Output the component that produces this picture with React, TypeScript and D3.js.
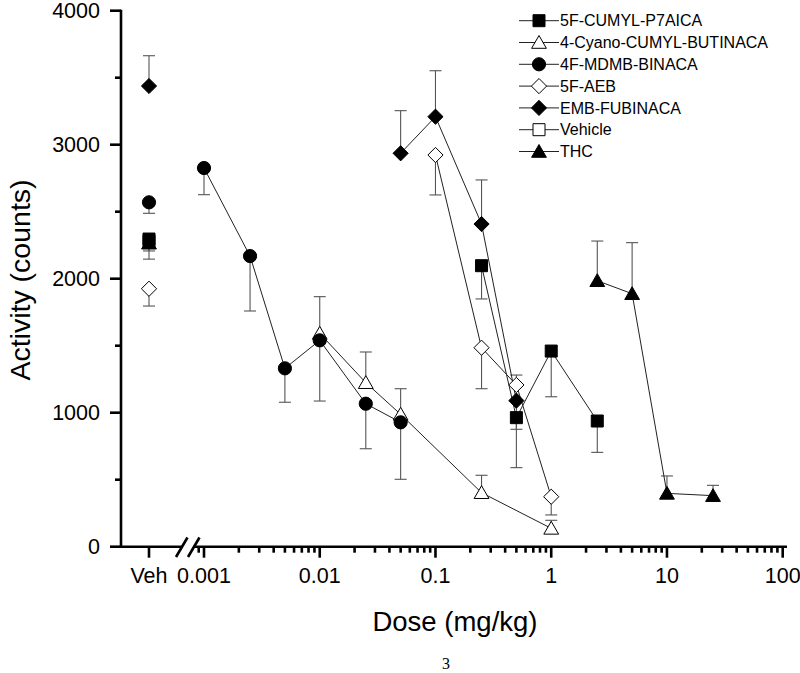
import React from "react";
import * as d3 from "d3";

// ---- data ----
const xTickLabels = ["Veh", "0.001", "0.01", "0.1", "1", "10", "100"];
const xTickValues = [0.001, 0.01, 0.1, 1, 10, 100];
const yTickValues = [0, 1000, 2000, 3000, 4000];
const yMinorTicks = [500, 1500, 2500, 3500];

const seriesNames = [
  "5F-CUMYL-P7AICA",
  "4-Cyano-CUMYL-BUTINACA",
  "4F-MDMB-BINACA",
  "5F-AEB",
  "EMB-FUBINACA",
  "Vehicle",
  "THC",
];
const seriesShapes = ["square", "triangle", "circle", "diamond", "diamond", "square", "triangle"];
const seriesFilled = [true, false, true, false, true, false, true];

// Vehicle values (dose "Veh") per series (null = none)
const vehValues = [2296, null, 2570, 1925, 3438, 2280, 2265];
const vehErrors = [-89, null, -82, -129, 226, 0, -119];

// dose-response data (error sign: + drawn upward, - drawn downward)
const cumylDoses = [0.25, 0.5, 1, 2.5];
const cumylValues = [2097, 963, 1460, 938];
const cumylErrors = [-248, -373, -341, -234];

const cyanoDoses = [0.01, 0.025, 0.05, 0.25, 1];
const cyanoValues = [1592, 1224, 988, 403, 137];
const cyanoErrors = [274, 229, 191, 130, 60];

const mdmbDoses = [0.001, 0.0025, 0.005, 0.01, 0.025, 0.05];
const mdmbValues = [2826, 2169, 1331, 1540, 1067, 928];
const mdmbErrors = [-199, -410, -253, -453, -336, -425];

const aebDoses = [0.1, 0.25, 0.5, 1];
const aebValues = [2923, 1485, 1207, 373];
const aebErrors = [-298, -306, 74, -136];

const embDoses = [0.05, 0.1, 0.25, 0.5];
const embValues = [2936, 3209, 2408, 1090];
const embErrors = [318, 343, 329, -214];

const vehicleDoses: number[] = [];
const vehicleValues: number[] = [];
const vehicleErrors: number[] = [];

const thcDoses = [2.5, 5, 10, 25];
const thcValues = [1985, 1888, 398, 381];
const thcErrors = [296, 381, 130, 77];

const seriesDoses = [cumylDoses, cyanoDoses, mdmbDoses, aebDoses, embDoses, vehicleDoses, thcDoses];
const seriesValues = [cumylValues, cyanoValues, mdmbValues, aebValues, embValues, vehicleValues, thcValues];
const seriesErrors = [cumylErrors, cyanoErrors, mdmbErrors, aebErrors, embErrors, vehicleErrors, thcErrors];

// ---- layout ----
const W = 800;
const H = 673;
const FONT = "'Liberation Sans', Arial, Helvetica, sans-serif";
const SERIF = "'Liberation Serif', 'Times New Roman', serif";
const AX = 121; // y-axis x
const AY = 546.7; // x-axis y

const yScale = d3.scaleLinear().domain([0, 4000]).range([AY, 10.7]);
const xLog = d3.scaleLog().domain([0.001, 100]).range([204, 782.7]);
const vehScale = d3.scalePoint<string>().domain(["Veh"]).range([AX, 177]).padding(0.5);

const xPos = (d: number | null) => (d === null ? (vehScale("Veh") as number) : xLog(d));

function markerPath(shape: string): string {
  switch (shape) {
    case "square":
      return "M-6,-6H6V6H-6Z";
    case "triangle":
      return "M0,-7L7.4,5.8H-7.4Z";
    case "diamond":
      return "M0,-7.6L7.6,0L0,7.6L-7.6,0Z";
    default:
      return d3.symbol(d3.symbolCircle, Math.PI * 6.6 * 6.6)() as string;
  }
}

const Marker = ({ x, y, i }: { x: number; y: number; i: number }) => (
  <path
    d={markerPath(seriesShapes[i])}
    transform={`translate(${x},${y})`}
    fill={seriesFilled[i] ? "#000" : "#fff"}
    stroke="#000"
    strokeWidth={1}
  />
);

export default function App() {
  const line = d3
    .line<[number, number]>()
    .x((p) => xLog(p[0]))
    .y((p) => yScale(p[1]));

  // minor log ticks
  const minorLog: number[] = [0.0009];
  for (let e = -3; e < 2; e++) {
    for (let m = 2; m <= 9; m++) minorLog.push(m * Math.pow(10, e));
  }

  const errBar = (x: number, v: number, e: number, key: string) => {
    if (!e) return null;
    const y0 = yScale(v);
    const y1 = yScale(v + e);
    return (
      <g key={key} stroke="#555" strokeWidth={1.1} fill="none">
        <line x1={x} x2={x} y1={y0} y2={y1} />
        <line x1={x - 6} x2={x + 6} y1={y1} y2={y1} />
      </g>
    );
  };

  const order = [5, 0, 1, 2, 3, 4, 6];

  return (
    <svg
      width={W}
      height={H}
      style={{ position: "absolute", left: 0, top: 0, background: "#fff", fontFamily: FONT }}
    >
      <rect width={W} height={H} fill="#fff" />

      {/* error bars */}
      {order.map((i) => (
        <g key={"e" + i}>
          {vehValues[i] !== null && errBar(xPos(null), vehValues[i] as number, vehErrors[i] as number, "v")}
          {seriesDoses[i].map((d, k) => errBar(xLog(d), seriesValues[i][k], seriesErrors[i][k], "k" + k))}
        </g>
      ))}

      {/* lines */}
      {order.map((i) =>
        seriesDoses[i].length > 1 ? (
          <path
            key={"l" + i}
            d={line(seriesDoses[i].map((d, k) => [d, seriesValues[i][k]] as [number, number])) as string}
            fill="none"
            stroke="#222"
            strokeWidth={1}
          />
        ) : null
      )}

      {/* markers */}
      {order.map((i) => (
        <g key={"m" + i}>
          {vehValues[i] !== null && <Marker x={xPos(null)} y={yScale(vehValues[i] as number)} i={i} />}
          {seriesDoses[i].map((d, k) => (
            <Marker key={k} x={xLog(d)} y={yScale(seriesValues[i][k])} i={i} />
          ))}
        </g>
      ))}

      {/* axes */}
      <g stroke="#000" strokeWidth={2.6} fill="none" strokeLinecap="butt">
        <line x1={AX} x2={AX} y1={yScale(4000) - 1} y2={AY + 1.3} />
        <line x1={AX - 1.3} x2={181.5} y1={AY} y2={AY} />
        <line x1={193.5} x2={787} y1={AY} y2={AY} />
        <line x1={176} y1={557} x2={187.5} y2={537.5} />
        <line x1={188} y1={557} x2={199.5} y2={537.5} />
        {yTickValues.map((v) => (
          <line key={"yt" + v} x1={AX - 11} x2={AX} y1={yScale(v)} y2={yScale(v)} />
        ))}
        {yMinorTicks.map((v) => (
          <line key={"ym" + v} x1={AX - 6} x2={AX} y1={yScale(v)} y2={yScale(v)} />
        ))}
        <line x1={xPos(null)} x2={xPos(null)} y1={AY} y2={AY + 11} />
        {xTickValues.map((v) => (
          <line key={"xt" + v} x1={xLog(v)} x2={xLog(v)} y1={AY} y2={AY + 11} />
        ))}
        {minorLog.map((v) => (
          <line key={"xm" + v} x1={xLog(v)} x2={xLog(v)} y1={AY} y2={AY + 6} />
        ))}
      </g>

      {/* tick labels */}
      <g style={{ fontSize: "21.5px", fontFamily: FONT }} fill="#000">
        {yTickValues.map((v) => (
          <text key={"yl" + v} x={100} y={yScale(v)} dy="0.36em" textAnchor="end">
            {v}
          </text>
        ))}
        {xTickLabels.map((t, k) => (
          <text
            key={"xl" + t}
            x={k === 0 ? xPos(null) : xLog(xTickValues[k - 1])}
            y={583}
            textAnchor="middle"
          >
            {t}
          </text>
        ))}
      </g>

      {/* axis titles */}
      <text x={455} y={631} style={{ fontSize: "27.5px", fontFamily: FONT }} textAnchor="middle">
        Dose (mg/kg)
      </text>
      <text
        transform="translate(30,280) rotate(-90)"
        style={{ fontSize: "28.5px", fontFamily: FONT }}
        textAnchor="middle"
      >
        Activity (counts)
      </text>

      {/* legend */}
      {seriesNames.map((name, i) => {
        const cy = 20.7 + i * 21.8;
        return (
          <g key={"lg" + i}>
            <line x1={519} x2={559} y1={cy} y2={cy} stroke="#222" strokeWidth={1} />
            <Marker x={539} y={cy} i={i} />
            <text x={560} y={cy} dy="0.36em" style={{ fontSize: "16px", fontFamily: FONT }}>
              {name}
            </text>
          </g>
        );
      })}

      {/* page number */}
      <text x={446} y={669} style={{ fontSize: "16px", fontFamily: SERIF }} textAnchor="middle">
        3
      </text>
    </svg>
  );
}
